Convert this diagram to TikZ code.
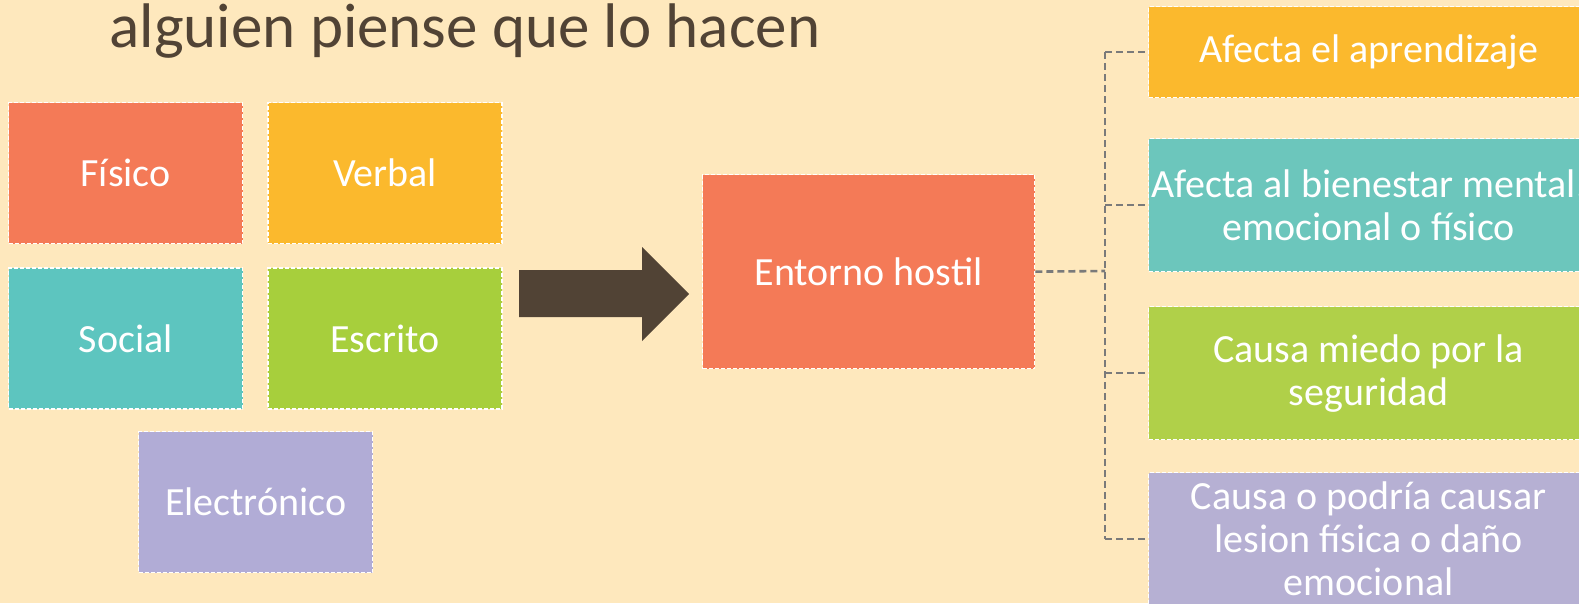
\documentclass[tikz,border=0pt]{standalone}
\usepackage{fontspec}
\setmainfont{Carlito}
\usetikzlibrary{positioning}

\definecolor{bgpeach}{HTML}{FEE8BD}
\definecolor{darkbrown}{HTML}{514335}
\definecolor{coral}{HTML}{F47A57}
\definecolor{amber}{HTML}{FBB92D}
\definecolor{teal}{HTML}{5DC5BF}
\definecolor{lime}{HTML}{A7CF3C}
\definecolor{lilac}{HTML}{B1ACD6}
\definecolor{tealR}{HTML}{6CC6BC}
\definecolor{limeR}{HTML}{B0D049}
\definecolor{lilacR}{HTML}{B6B0D3}
\definecolor{connGray}{HTML}{7A7A7A}

\begin{document}
\begin{tikzpicture}[x=1pt,y=-1pt,
    box/.style={rectangle, draw=white, dash pattern=on 4pt off 2pt, line width=1.3pt,
      text=white, align=center, inner sep=0pt, font=\fontsize{40}{43}\selectfont},
    small/.style={box, minimum width=234pt, minimum height=141pt},
    effect/.style={box, minimum width=440pt, minimum height=133pt, anchor=north west},
    conn/.style={draw=connGray, line width=2.6pt, dash pattern=on 7pt off 4pt}]
  \fill[bgpeach] (0,0) rectangle (1579,603);
  \useasboundingbox (0,0) rectangle (1579,603);

  \node (title) [anchor=base west, text=darkbrown, font=\fontsize{63}{65}\selectfont]
    at (106,47) {alguien piense que lo hacen};

  % tipos
  \node (fisico) [small, fill=coral, anchor=north west] at (8,102) {Físico};
  \node (verbal) [small, fill=amber, right=24pt of fisico] {Verbal};
  \node (social) [small, fill=teal, below=23pt of fisico] {Social};
  \node (escrito) [small, fill=lime, right=24pt of social] {Escrito};
  \node (electronico) [small, fill=lilac, anchor=north west] at (138,431) {Electrónico};

  % flecha
  \fill[darkbrown] (519,270) -- (642,270) -- (642,247) -- (689,294)
    -- (642,341) -- (642,317) -- (519,317) -- cycle;

  \node (entorno) [box, fill=coral, minimum width=332pt, minimum height=194pt,
    anchor=north west] at (702,174) {Entorno hostil};

  % efectos
  \node (aprende) [effect, fill=amber, minimum height=91pt] at (1148,6) {Afecta el aprendizaje};
  \node (bienestar) [effect, fill=tealR] at (1148,138) {Afecta al bienestar mental,\\emocional o físico};
  \node (miedo) [effect, fill=limeR] at (1148,306) {Causa miedo por la\\seguridad};
  \node (lesion) [effect, fill=lilacR] at (1148,472) {Causa o podría causar\\lesion física o daño\\emocional};

  \coordinate (trunk) at (1105,271);
  \draw[conn] (entorno.east) -- (trunk);
  \draw[conn] (trunk |- aprende.west) -- (trunk |- lesion.west);
  \foreach \b in {aprende,bienestar,miedo,lesion}
    \draw[conn] (trunk |- \b.west) -- (\b.west);
\end{tikzpicture}
\end{document}
